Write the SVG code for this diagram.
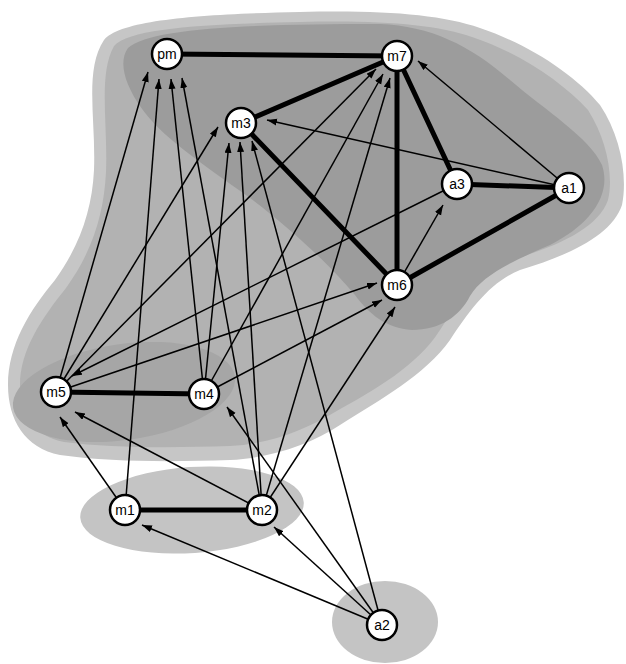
<svg xmlns="http://www.w3.org/2000/svg" width="626" height="664" viewBox="0 0 626 664">
<defs>
<marker id="ah" markerUnits="userSpaceOnUse" markerWidth="11" markerHeight="8" refX="10" refY="3.5" orient="auto">
<path d="M0,0 L10,3.5 L0,7 Z" fill="#000"/>
</marker>
<style>
.halo{fill:#c6c6c6}
.body{fill:#b2b2b2}
.core{fill:#9c9c9c}
.ell{fill:#a6a6a6}
.light{fill:#c4c4c4}
.thick{stroke:#000;stroke-width:5;fill:none;stroke-linecap:round}
.arr{stroke:#000;stroke-width:1.5;fill:none;marker-end:url(#ah)}
.node circle{fill:#fff;stroke:#000;stroke-width:2.5}
.node text{font-family:"Liberation Sans",Arial,sans-serif;font-size:14px;text-anchor:middle;fill:#000}
</style>
</defs>
<rect width="626" height="664" fill="#fff"/>
<g id="regions">
<path class="halo" d="M104,40 C120,20 200,14 300,12 C380,10 440,14 480,28 C530,45 575,75 600,105 C620,135 628,175 622,205 C612,235 570,255 520,270 C490,282 470,310 450,340 C425,375 380,400 340,425 C310,445 270,458 230,460 C170,462 110,462 60,455 C25,448 8,420 8,385 C8,345 30,310 55,280 C80,245 92,210 94,170 C96,120 84,70 104,40 Z"/>
<path class="body" d="M114,46 C130,28 205,24 300,22 C378,20 435,24 472,37 C520,53 562,82 588,110 C606,138 614,175 608,200 C598,228 560,245 512,260 C480,273 460,300 440,330 C418,365 375,390 335,412 C305,430 270,444 230,446 C170,448 110,448 64,442 C34,436 20,414 20,385 C20,350 42,318 66,288 C92,252 104,214 106,172 C108,125 98,74 114,46 Z"/>
<path class="core" d="M128,48 C150,28 250,24 380,24 C430,26 470,45 510,80 C545,110 590,138 602,165 C612,195 590,225 550,245 C510,262 482,276 470,296 C460,316 440,330 412,330 C386,328 370,315 355,295 C330,265 290,228 250,198 C200,162 160,136 140,106 C125,84 118,62 128,48 Z"/>
<ellipse class="ell" cx="124" cy="392" rx="112" ry="48" transform="rotate(-8 124 392)"/>
<ellipse class="light" cx="192" cy="510" rx="112" ry="43" transform="rotate(-4 192 510)"/>
<ellipse class="light" cx="385" cy="622" rx="53" ry="41"/>
</g>
<g id="connectors">
<line class="thick" x1="167" y1="54" x2="397" y2="56"/>
<line class="thick" x1="397" y1="56" x2="241" y2="123"/>
<line class="thick" x1="241" y1="123" x2="397" y2="285"/>
<line class="thick" x1="397" y1="56" x2="397" y2="285"/>
<line class="thick" x1="397" y1="56" x2="457" y2="184"/>
<line class="thick" x1="457" y1="184" x2="569" y2="188"/>
<line class="thick" x1="569" y1="188" x2="397" y2="285"/>
<line class="thick" x1="56" y1="392" x2="204" y2="394"/>
<line class="thick" x1="125" y1="510" x2="262" y2="510"/>
<line class="arr" x1="56" y1="392" x2="148" y2="72"/>
<line class="arr" x1="125" y1="510" x2="159" y2="79"/>
<line class="arr" x1="204" y1="394" x2="171" y2="79"/>
<line class="arr" x1="262" y1="510" x2="182" y2="78"/>
<line class="arr" x1="56" y1="392" x2="218" y2="127"/>
<line class="arr" x1="204" y1="394" x2="229" y2="143"/>
<line class="arr" x1="262" y1="510" x2="240" y2="142"/>
<line class="arr" x1="382" y1="625" x2="252" y2="141"/>
<line class="arr" x1="569" y1="188" x2="267" y2="120"/>
<line class="arr" x1="56" y1="392" x2="376" y2="69"/>
<line class="arr" x1="204" y1="394" x2="383" y2="74"/>
<line class="arr" x1="262" y1="510" x2="390" y2="78"/>
<line class="arr" x1="569" y1="188" x2="418" y2="61"/>
<line class="arr" x1="56" y1="392" x2="377" y2="283"/>
<line class="arr" x1="204" y1="394" x2="382" y2="300"/>
<line class="arr" x1="262" y1="510" x2="395" y2="307"/>
<line class="arr" x1="397" y1="285" x2="443" y2="205"/>
<line class="arr" x1="457" y1="184" x2="72" y2="376"/>
<line class="arr" x1="125" y1="510" x2="60" y2="417"/>
<line class="arr" x1="262" y1="510" x2="75" y2="412"/>
<line class="arr" x1="382" y1="625" x2="227" y2="407"/>
<line class="arr" x1="382" y1="625" x2="142" y2="525"/>
<line class="arr" x1="382" y1="625" x2="274" y2="527"/>
</g>
<g id="pm" class="node"><circle cx="167" cy="54" r="15"/><text x="167" y="59">pm</text></g>
<g id="m7" class="node"><circle cx="397" cy="56" r="15"/><text x="397" y="61">m7</text></g>
<g id="m3" class="node"><circle cx="241" cy="123" r="15"/><text x="241" y="128">m3</text></g>
<g id="a3" class="node"><circle cx="457" cy="184" r="15"/><text x="457" y="189">a3</text></g>
<g id="a1" class="node"><circle cx="569" cy="188" r="15"/><text x="569" y="193">a1</text></g>
<g id="m6" class="node"><circle cx="397" cy="285" r="15"/><text x="397" y="290">m6</text></g>
<g id="m5" class="node"><circle cx="56" cy="392" r="15"/><text x="56" y="397">m5</text></g>
<g id="m4" class="node"><circle cx="204" cy="394" r="15"/><text x="204" y="399">m4</text></g>
<g id="m1" class="node"><circle cx="125" cy="510" r="15"/><text x="125" y="515">m1</text></g>
<g id="m2" class="node"><circle cx="262" cy="510" r="15"/><text x="262" y="515">m2</text></g>
<g id="a2" class="node"><circle cx="382" cy="625" r="15"/><text x="382" y="630">a2</text></g>
</svg>
